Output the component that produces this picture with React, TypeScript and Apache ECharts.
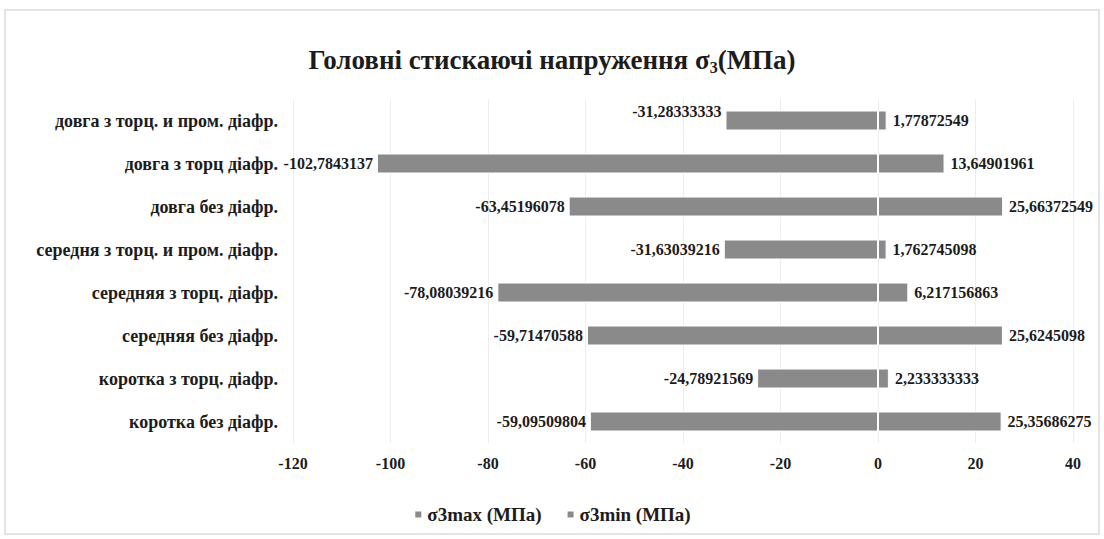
import React, { useEffect, useRef } from "react";
import * as echarts from "echarts";

const categories = [
  "довга з торц. и пром. діафр.",
  "довга з торц діафр.",
  "довга без діафр.",
  "середня з торц. и пром. діафр.",
  "середняя з торц. діафр.",
  "середняя без діафр.",
  "коротка з торц. діафр.",
  "коротка без діафр.",
];

const sigmaMax = [
  1.77872549, 13.64901961, 25.66372549, 1.762745098, 6.217156863, 25.6245098,
  2.233333333, 25.35686275,
];

const sigmaMin = [
  -31.28333333, -102.7843137, -63.45196078, -31.63039216, -78.08039216,
  -59.71470588, -24.78921569, -59.09509804,
];

const xTicks = { min: -120, max: 40, interval: 20 };

const FONT = "Liberation Serif";
const BAR = "#8a8a8a";
const TXT = "#1c1c1c";

const fmt = (v: number) => String(v).replace(".", ",");

export default function App() {
  const ref = useRef<HTMLDivElement>(null);

  useEffect(() => {
    document.body.style.margin = "0";
    if (!ref.current) return;
    const chart = echarts.init(ref.current, undefined, { renderer: "svg" });
    const labelBase = {
      show: true,
      fontFamily: FONT,
      fontWeight: "bold" as const,
      fontSize: 16,
      color: TXT,
      formatter: (p: any) => fmt(p.value),
    };
    chart.setOption({
      animation: false,
      backgroundColor: "#ffffff",
      title: {
        text: "Головні стискаючі напруження σ{sub|3}(МПа)",
        left: "center",
        top: 40,
        textStyle: {
          fontFamily: FONT,
          fontWeight: "bold",
          fontSize: 27,
          color: TXT,
          lineHeight: 30,
          rich: {
            sub: {
              fontFamily: FONT,
              fontWeight: "bold",
              fontSize: 16,
              color: TXT,
              verticalAlign: "bottom",
              lineHeight: 22,
            },
          },
        },
      },
      graphic: [
        {
          type: "rect",
          shape: { x: 5, y: 10, width: 1094, height: 524 },
          style: { fill: "none", stroke: "#dcdcdc", lineWidth: 1.5 },
          silent: true,
        },
      ],
      legend: {
        bottom: 10,
        left: "center",
        itemWidth: 8,
        itemHeight: 8,
        itemGap: 24,
        icon: "rect",
        textStyle: {
          fontFamily: FONT,
          fontWeight: "bold",
          fontSize: 19,
          color: TXT,
        },
        data: ["σ3max (МПа)", "σ3min (МПа)"],
      },
      grid: { left: 293, right: 31, top: 99, bottom: 96, containLabel: false },
      xAxis: {
        type: "value",
        min: xTicks.min,
        max: xTicks.max,
        interval: xTicks.interval,
        axisLine: { show: false },
        axisTick: { show: false },
        splitLine: { show: true, lineStyle: { color: "#ededed", width: 1 } },
        axisLabel: {
          fontFamily: FONT,
          fontWeight: "bold",
          fontSize: 16,
          color: TXT,
          margin: 12,
        },
      },
      yAxis: {
        type: "category",
        inverse: true,
        data: categories,
        axisLine: { show: false },
        axisTick: { show: false },
        splitLine: { show: false },
        axisLabel: {
          fontFamily: FONT,
          fontWeight: "bold",
          fontSize: 18,
          color: TXT,
          margin: 15,
        },
      },
      series: [
        {
          name: "σ3max (МПа)",
          type: "bar",
          stack: "s",
          barWidth: 20,
          data: sigmaMax,
          itemStyle: { color: BAR, borderColor: "#ffffff", borderWidth: 1 },
          label: { ...labelBase, position: "right", distance: 6 },
        },
        {
          name: "σ3min (МПа)",
          type: "bar",
          stack: "s",
          barWidth: 20,
          data: sigmaMin.map((v, i) =>
            i === 0 ? { value: v, label: { offset: [0, -9] } } : v
          ),
          itemStyle: { color: BAR, borderColor: "#ffffff", borderWidth: 1 },
          label: { ...labelBase, position: "left", distance: 4 },
        },
      ],
    });
    return () => chart.dispose();
  }, []);

  return <div ref={ref} style={{ width: 1104, height: 539 }} />;
}
